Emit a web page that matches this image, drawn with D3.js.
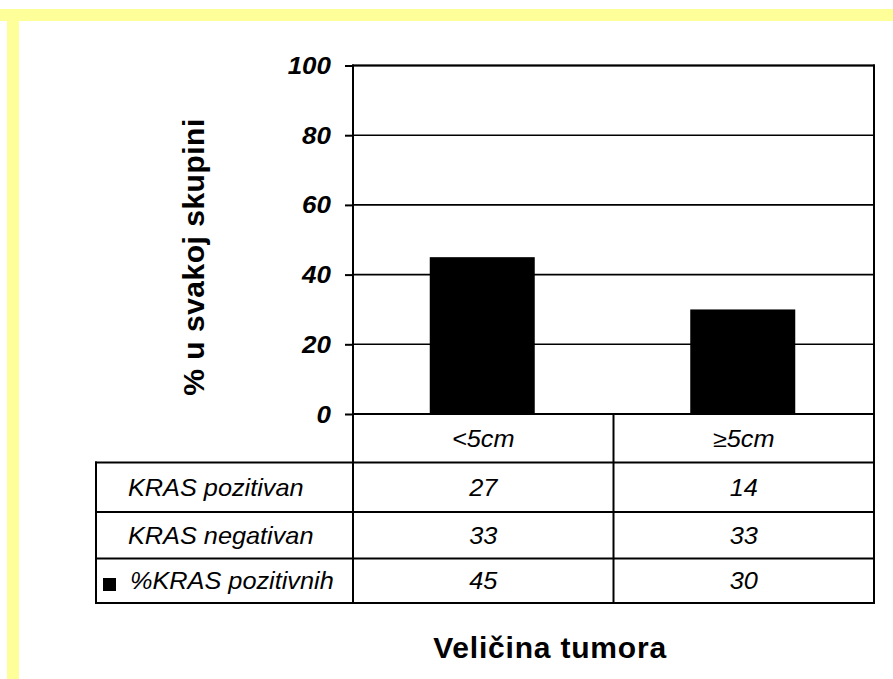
<!DOCTYPE html>
<html><head><meta charset="utf-8">
<script src="https://cdn.jsdelivr.net/npm/d3@7"></script>
<style>body{margin:0;background:#fff}svg{display:block}</style>
</head><body>
<svg id="c" width="893" height="679"></svg>
<script>
const categories = ["<5cm", "≥5cm"];
const rowLabels = ["KRAS pozitivan", "KRAS negativan", "%KRAS pozitivnih"];
const kindPositive = [27, 14];
const kindNegative = [33, 33];
const percentPositive = [45, 30];
const yTicks = [0, 20, 40, 60, 80, 100];
const yTitle = "% u svakoj skupini";
const xTitle = "Veličina tumora";

const svg = d3.select("#c");
const font = "'Liberation Sans', Arial, sans-serif";

// yellow frame
svg.append("rect").attr("x", 0).attr("y", 9).attr("width", 893).attr("height", 12).attr("fill", "#ffff99");
svg.append("rect").attr("x", 7).attr("y", 9).attr("width", 12).attr("height", 670).attr("fill", "#ffff99");

const L = 353, R = 874, T = 65.5, B = 414;
const x = d3.scaleBand().domain(categories).range([L, R]).paddingInner(0).paddingOuter(0);
const y = d3.scaleLinear().domain([0, 100]).range([B, T]);

// gridlines
svg.append("g").selectAll("line").data(yTicks.filter(d => d > 0)).join("line")
  .attr("x1", L).attr("x2", R).attr("y1", d => y(d)).attr("y2", d => y(d))
  .attr("stroke", "#000").attr("stroke-width", 1.6);

// bars
const bw = 105;
svg.append("g").selectAll("rect").data(categories).join("rect")
  .attr("x", d => x(d) + x.bandwidth() / 2 - bw / 2 - 1)
  .attr("width", bw)
  .attr("y", (d, i) => y(percentPositive[i]))
  .attr("height", (d, i) => B - y(percentPositive[i]))
  .attr("fill", "#000");

// y axis (ticks), labels drawn stretched
const yAxis = d3.axisLeft(y).tickValues(yTicks).tickSize(8).tickFormat("");
const ga = svg.append("g").attr("transform", `translate(${L},0)`).call(yAxis);
ga.select(".domain").remove();
ga.selectAll(".tick line").attr("stroke", "#000").attr("stroke-width", 2);
svg.append("g").selectAll("text").data(yTicks).join("text")
  .attr("transform", d => `translate(331,${y(d) + 8.5}) scale(1.13,1)`)
  .attr("text-anchor", "end").attr("font-family", font).attr("font-size", 23)
  .attr("font-weight", "bold").attr("font-style", "italic").attr("fill", "#000")
  .text(d3.format("d"));

// plot frame
const stroke = 2;
function line(x1, y1, x2, y2) {
  svg.append("line").attr("x1", x1).attr("y1", y1).attr("x2", x2).attr("y2", y2)
    .attr("stroke", "#000").attr("stroke-width", stroke).attr("stroke-linecap", "square");
}
line(L, T, R, T);
line(R, T, R, B);

// table
const rowY = [414, 462.5, 512, 558.5, 603];
const tL = 96;
line(L, T, L, rowY[4]);
line(R, B, R, rowY[4]);
line(L, B, R, B);
for (let i = 1; i < rowY.length; i++) line(tL, rowY[i], R, rowY[i]);
line(tL, rowY[1], tL, rowY[4]);
categories.forEach((c, i) => { if (i > 0) line(x(c), B, x(c), rowY[4]); });

const SX = 1.1;
function ttext(px, py, txt, anchor) {
  svg.append("text").attr("transform", `translate(${px},${py}) scale(${SX},1)`)
    .attr("text-anchor", anchor).attr("font-family", font).attr("font-size", 23)
    .attr("font-style", "italic").attr("fill", "#000").text(txt);
}
// header
categories.forEach(c => ttext(x(c) + x.bandwidth() / 2, (rowY[0] + rowY[1]) / 2 + 8.5, c, "middle"));

const rows = [kindPositive, kindNegative, percentPositive];
rows.forEach((vals, r) => {
  const cy = (rowY[r + 1] + rowY[r + 2]) / 2 + 8.5;
  ttext(r === 2 ? 130 : 128, cy, rowLabels[r], "start");
  vals.forEach((v, i) => ttext(x(categories[i]) + x.bandwidth() / 2, cy, v, "middle"));
});
// legend key
svg.append("rect").attr("x", 103).attr("y", 578).attr("width", 13).attr("height", 13).attr("fill", "#000");

// titles
svg.append("text").attr("transform", "translate(204,257) rotate(-90)")
  .attr("text-anchor", "middle").attr("font-family", font).attr("font-size", 30)
  .attr("font-weight", "bold").attr("letter-spacing", 0.5).text(yTitle);
svg.append("text").attr("x", 550).attr("y", 658).attr("text-anchor", "middle")
  .attr("font-family", font).attr("font-size", 30).attr("font-weight", "bold")
  .attr("letter-spacing", 0.8).text(xTitle);
</script>
</body></html>
